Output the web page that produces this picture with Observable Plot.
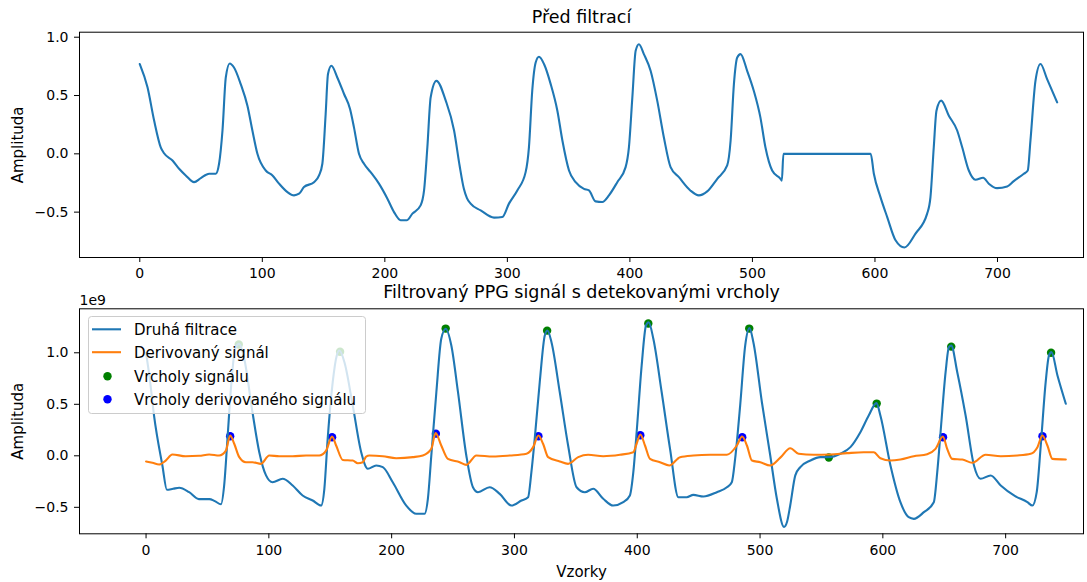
<!DOCTYPE html>
<html><head><meta charset="utf-8">
<script src="https://cdn.jsdelivr.net/npm/d3@7"></script>
<script src="https://cdn.jsdelivr.net/npm/@observablehq/plot@0.6"></script>
<style>
body{margin:0;background:#fff;}
#wrap{position:relative;width:1087px;height:582px;font-family:"DejaVu Sans",sans-serif;background:#fff;}
#top{position:absolute;left:0;top:0;}
#bot{position:absolute;left:0;top:282px;}
#legend{position:absolute;left:88px;top:316px;}
</style></head><body>
<div id="wrap"><div id="top"></div><div id="bot"></div><div id="legend"></div></div>
<script>
// ---- texts ----
const topTitle = "Před filtrací";
const botTitle = "Filtrovaný PPG signál s detekovanými vrcholy";
const yLabel = "Amplituda";
const xLabel = "Vzorky";
const offsetLabel = "1e9";
const seriesNames = ["Druhá filtrace", "Derivovaný signál", "Vrcholy signálu", "Vrcholy derivovaného signálu"];
const seriesColors = ["#1f77b4", "#ff7f0e", "green", "blue"];

// ---- ticks ----
const xTicks = [0, 100, 200, 300, 400, 500, 600, 700];
const yTicks = [-0.5, 0, 0.5, 1.0];

// ---- raw signal (top) [sample, amplitude] ----
const rawSignal = [[0,0.77],[6.3,0.57],[11.7,0.285],[17.1,0.056],[19.8,0.005],[26.7,-0.057],[32.1,-0.128],[37.5,-0.185],[44.3,-0.243],[49.8,-0.208],[56.6,-0.171],[62,-0.171],[64.7,-0.085],[67.5,0.2],[70.2,0.655],[73.4,0.775],[76.9,0.74],[82.3,0.6],[87.9,0.41],[91.9,0.2],[96,0.0],[102.8,-0.143],[108.3,-0.185],[113.7,-0.256],[120.5,-0.328],[125.9,-0.356],[130,-0.342],[134,-0.285],[142.2,-0.243],[146.3,-0.185],[149,-0.085],[151.7,0.342],[153.6,0.684],[156.4,0.755],[161.2,0.655],[166.7,0.513],[171.6,0.385],[174.8,0.227],[178.9,0.0],[183,-0.085],[188.4,-0.157],[195.2,-0.256],[202.1,-0.385],[207.5,-0.5],[212.9,-0.57],[217.8,-0.57],[222.5,-0.513],[229.2,-0.442],[232,-0.314],[234.7,0.056],[237.4,0.484],[242.1,0.626],[249.7,0.456],[256.5,0.2],[261,-0.1],[264.5,-0.3],[267,-0.38],[270,-0.427],[278.2,-0.485],[289.1,-0.547],[295.9,-0.542],[301.3,-0.427],[308.1,-0.314],[314.9,-0.157],[317.6,0.056],[320.3,0.541],[323.1,0.783],[325.8,0.832],[329.9,0.77],[335.3,0.6],[340.8,0.37],[344.9,0.114],[350.3,-0.143],[355.7,-0.243],[362.5,-0.3],[366.6,-0.314],[372,-0.408],[377.5,-0.413],[382.9,-0.356],[389.7,-0.243],[396.5,-0.114],[399.2,0.056],[402,0.484],[404.7,0.883],[407.4,0.94],[411.4,0.855],[416.9,0.712],[422.3,0.456],[427.7,0.142],[433.2,-0.114],[440,-0.2],[449.3,-0.314],[456.3,-0.356],[463.1,-0.322],[471.3,-0.214],[479.4,-0.1],[482.2,0.114],[484.9,0.6],[487.6,0.826],[490.3,0.855],[495.7,0.712],[501.1,0.541],[506.5,0.313],[510.6,0.056],[516.1,-0.143],[522.9,-0.214],[524,-0.23],[525.3,0.0],[527,0.0],[596.5,0.0],[599.1,-0.171],[604.5,-0.371],[610,-0.542],[616.8,-0.741],[624.1,-0.803],[633.1,-0.684],[642.6,-0.513],[645.3,-0.371],[648,0.056],[650.2,0.37],[654,0.456],[660.3,0.327],[667.1,0.2],[671.2,0.056],[676.6,-0.143],[682,-0.222],[688.3,-0.205],[692.9,-0.256],[699.7,-0.294],[707.9,-0.28],[713.3,-0.234],[721.5,-0.171],[724.7,-0.143],[726.9,0.114],[731,0.626],[735.1,0.77],[740.5,0.64],[748.7,0.441]];

// ---- filtered signal (bottom, ×1e9) ----
const filtSignal = [[0,1.0],[3,0.75],[6.5,0.39],[13.3,-0.094],[17,-0.33],[22,-0.32],[27,-0.31],[35.1,-0.353],[43,-0.42],[51.5,-0.42],[56,-0.44],[61,-0.47],[63.6,-0.288],[66.3,0.165],[69.1,0.65],[72.6,1.04],[75.9,1.087],[80,0.94],[86.7,0.42],[92.2,0.035],[97.7,-0.19],[103,-0.256],[111.2,-0.223],[119.4,-0.288],[127.5,-0.385],[135.7,-0.434],[142.5,-0.483],[145.2,-0.32],[147.9,0.165],[152,0.715],[155.3,0.974],[157.5,1.022],[161.5,0.91],[168.3,0.49],[175.2,0.035],[180.6,-0.126],[187.4,-0.094],[192.8,-0.11],[200.9,-0.256],[211.9,-0.483],[220,-0.563],[226.8,-0.563],[229.5,-0.417],[232.3,0.003],[236.4,0.617],[240.4,1.136],[244,1.233],[248.6,1.07],[254,0.62],[260.8,0.003],[266.2,-0.305],[270.3,-0.353],[279.8,-0.305],[288,-0.369],[297.5,-0.483],[305.7,-0.434],[311.1,-0.402],[313.8,-0.159],[316.5,0.165],[320.6,0.715],[324.7,1.168],[326.9,1.217],[330.2,1.1],[336.9,0.617],[343.7,0.1],[350.6,-0.305],[357.3,-0.353],[364.1,-0.32],[372.3,-0.417],[380.4,-0.483],[388.6,-0.45],[394,-0.385],[396.8,-0.159],[399.5,0.229],[403.6,0.877],[407.1,1.265],[409.3,1.297],[413.1,1.136],[419.9,0.617],[426.7,0.068],[433.5,-0.402],[440.3,-0.402],[445.7,-0.379],[453.9,-0.395],[464.8,-0.353],[473,-0.305],[477,-0.256],[479.7,-0.03],[483.8,0.488],[487.9,1.07],[491.4,1.239],[494.6,1.1],[501.5,0.52],[508.3,0.003],[513.7,-0.417],[519.5,-0.69],[522,-0.64],[524.6,-0.48],[528.7,-0.19],[532.8,-0.11],[541,-0.046],[549.1,-0.013],[555.9,-0.013],[565.4,0.02],[573.6,0.084],[581.7,0.229],[588.5,0.391],[594.8,0.511],[598,0.391],[606.2,-0.094],[614.3,-0.45],[621.1,-0.596],[625.2,-0.612],[633.4,-0.547],[641.5,-0.45],[644.3,-0.159],[647,0.229],[651.1,0.812],[653.8,1.054],[655.7,1.07],[660.6,0.812],[667.4,0.391],[674.2,-0.094],[679.6,-0.223],[687.8,-0.191],[696,-0.288],[706.8,-0.385],[717.7,-0.45],[721.8,-0.483],[725.3,-0.353],[728.6,0.1],[732.6,0.715],[735.3,0.974],[737.3,1.006],[742.2,0.78],[749,0.505]];

// ---- derivative signal (bottom, ×1e9) ----
const derivSignal = [[0,-0.055],[5.2,-0.068],[10.6,-0.085],[16,-0.046],[21.4,0.013],[32.3,-0.004],[43.2,0.0],[51.4,0.013],[59.6,0.003],[65,0.05],[68.5,0.197],[71.8,0.117],[75.9,-0.013],[81.3,-0.062],[86.7,-0.062],[93.6,-0.078],[100.3,0.003],[108.5,-0.004],[119.4,-0.004],[130.3,0.003],[141.1,0.003],[146.6,0.05],[151.5,0.187],[154.8,0.1],[160.2,-0.04],[168.3,-0.046],[172.4,-0.072],[176.5,-0.062],[179.2,-0.007],[181.9,0.003],[192.8,-0.004],[203.7,-0.023],[217.3,-0.013],[225.4,0.003],[232.3,0.068],[235.8,0.22],[240.4,0.1],[245.8,-0.03],[255.4,-0.062],[260.8,-0.088],[269,0.003],[282.5,-0.007],[296.2,0.003],[309.8,0.02],[315.2,0.084],[319.5,0.197],[323.3,0.117],[327.4,-0.013],[336.9,-0.055],[343.7,-0.078],[351.9,-0.013],[360,0.01],[372.3,-0.004],[385.9,0.01],[396.8,0.035],[399.5,0.117],[402.5,0.207],[406.3,0.1],[410.4,-0.03],[418.5,-0.062],[426.1,-0.094],[434.9,-0.013],[445.7,0.003],[459.3,0.01],[473,0.01],[481.1,0.1],[485.4,0.187],[489.3,0.1],[493.4,-0.046],[500.2,-0.062],[508.3,-0.094],[516.5,-0.018],[524.6,0.074],[531.4,0.02],[543.6,0.01],[557.2,0.013],[570.9,0.026],[584.4,0.035],[592.6,0.035],[598,-0.023],[606.2,-0.046],[614.3,-0.036],[625.2,-0.004],[636.1,0.016],[642.9,0.068],[648.9,0.187],[652.4,0.068],[656.5,-0.03],[664.7,-0.036],[672.8,-0.068],[683.7,0.01],[696,-0.004],[709.5,0.003],[720.4,0.02],[725.9,0.084],[729.9,0.197],[734,0.1],[738.1,-0.03],[749,-0.036]];

// ---- detected peaks ----
const signalPeaks = [[75.5,1.08],[158,1.01],[244,1.235],[326.6,1.215],[409,1.285],[491.2,1.235],[556,-0.017],[595,0.507],[655.7,1.06],[737,1.0]];
const derivPeaks = [[68.5,0.19],[151.5,0.18],[236,0.215],[319.5,0.19],[402.5,0.2],[485.5,0.18],[649,0.18],[730,0.19]];

// ---- build tables ----
const toRows = arr => arr.map(([t, v]) => ({t, v}));
const raw = toRows(rawSignal), filt = toRows(filtSignal), deriv = toRows(derivSignal);
const pk = toRows(signalPeaks), dpk = toRows(derivPeaks);

const minus = d => (d < 0 ? "\u2212" : "") + Math.abs(d).toFixed(1);
const FONT = "DejaVu Sans";
const baseStyle = {fontFamily: FONT, fontSize: "14px", color: "#000", background: "transparent", overflow: "visible"};

function axesMarks(dyTitle, title) {
  return [
    Plot.frame({stroke: "#000", strokeWidth: 1}),
    Plot.axisX({ticks: xTicks, tickSize: 5, tickPadding: 6, tickFormat: d => String(d), label: null, fontSize: 14}),
    Plot.axisY({ticks: yTicks, tickSize: 5, tickPadding: 6, tickFormat: minus, label: null, fontSize: 14}),
    Plot.text([title], {text: d => d, frameAnchor: "top", textAnchor: "middle", lineAnchor: "middle", dy: dyTitle, fontSize: 17.5, fill: "#000"}),
    Plot.text([yLabel], {text: d => d, frameAnchor: "left", textAnchor: "middle", lineAnchor: "middle", rotate: -90, dx: -61, fontSize: 15, fill: "#000"})
  ];
}

const topPlot = Plot.plot({
  width: 1087, height: 282,
  marginTop: 31.7, marginBottom: 25, marginLeft: 79, marginRight: 4,
  style: baseStyle,
  x: {domain: [-49.2, 770.2]},
  y: {domain: [-0.889, 1.043]},
  marks: [
    Plot.line(raw, {x: "t", y: "v", stroke: seriesColors[0], strokeWidth: 2.1, curve: "monotone-x"}),
    ...axesMarks(-15.2, topTitle)
  ]
});
document.getElementById("top").appendChild(topPlot);

const botPlot = Plot.plot({
  width: 1087, height: 300,
  marginTop: 26.3, marginBottom: 48.7, marginLeft: 79, marginRight: 4,
  style: baseStyle,
  x: {domain: [-54.2, 763.4]},
  y: {domain: [-0.757, 1.427]},
  marks: [
    Plot.dot(pk, {x: "t", y: "v", r: 4.2, fill: seriesColors[2], stroke: "none"}),
    Plot.dot(dpk, {x: "t", y: "v", r: 4.2, fill: seriesColors[3], stroke: "none"}),
    Plot.line(filt, {x: "t", y: "v", stroke: seriesColors[0], strokeWidth: 2.1, curve: "monotone-x"}),
    Plot.line(deriv, {x: "t", y: "v", stroke: seriesColors[1], strokeWidth: 2.1, curve: "monotone-x"}),
    ...axesMarks(-16.5, botTitle),
    Plot.text([offsetLabel], {text: d => d, frameAnchor: "top-left", textAnchor: "start", lineAnchor: "middle", dy: -8, fontSize: 14, fill: "#000"}),
    Plot.text([xLabel], {text: d => d, frameAnchor: "bottom", textAnchor: "middle", lineAnchor: "middle", dy: 38.3, fontSize: 15, fill: "#000"})
  ]
});
document.getElementById("bot").appendChild(botPlot);

// ---- legend (matplotlib style, semi-transparent box) ----
const lg = d3.select("#legend").append("svg").attr("width", 279).attr("height", 99)
  .style("font-family", FONT).style("font-size", "15px");
lg.append("rect").attr("x", 0.5).attr("y", 0.5).attr("width", 277).attr("height", 97).attr("rx", 3)
  .attr("fill", "#fff").attr("fill-opacity", 0.8).attr("stroke", "#cccccc").attr("stroke-width", 1);
const rowY = [13.3, 36.2, 60.2, 83.2];
seriesNames.forEach((name, i) => {
  const y = rowY[i];
  if (i < 2) {
    lg.append("line").attr("x1", 4).attr("x2", 33).attr("y1", y).attr("y2", y)
      .attr("stroke", seriesColors[i]).attr("stroke-width", 2.1);
  } else {
    lg.append("circle").attr("cx", 19.5).attr("cy", y).attr("r", 4.2).attr("fill", seriesColors[i]);
  }
  lg.append("text").attr("x", 46).attr("y", y).attr("dy", "0.36em").attr("fill", "#000").text(name);
});
</script>
</body></html>
